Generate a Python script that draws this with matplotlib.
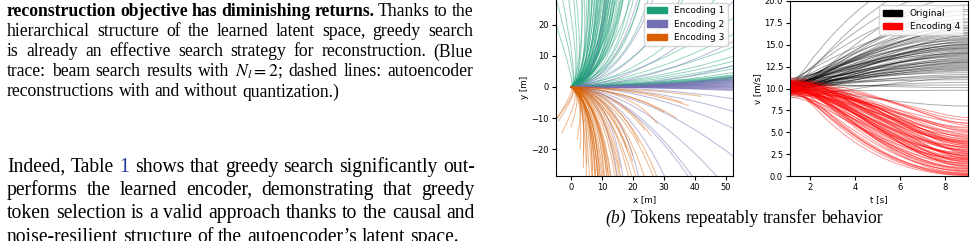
import matplotlib.pyplot as plt
from matplotlib.path import Path
from matplotlib.patches import PathPatch, Patch

plt.rcParams['mathtext.fontset'] = 'stix'
plt.rcParams['font.family'] = 'DejaVu Sans'

W, H = 975, 241
SERIF = 'Liberation Serif'

# ---------------- page text ----------------
caption_lines = [
    "reconstruction objective has diminishing returns. Thanks to the",
    "hierarchical structure of the learned latent space, greedy search",
    "is already an effective search strategy for reconstruction. (Blue",
    "trace: beam search results with $N_l=2$; dashed lines: autoencoder",
    "reconstructions with and without quantization.)",
]
body_lines = [
    "Indeed, Table 1 shows that greedy search significantly out-",
    "performs the learned encoder, demonstrating that greedy",
    "token selection is a valid approach thanks to the causal and",
    "noise-resilient structure of the autoencoder\u2019s latent space.",
]
subcaption = ["(b)", "Tokens", "repeatably", "transfer", "behavior"]

# ---------------- (b) left: x-y trajectories ----------------
# trajectory leaves the origin towards (ctrl_x, ctrl_y) and ends at (end_x, end_y)
enc1_ctrl_x = [2, 3, 3, 4, 4, 5, 5, 6, 6, 7, 7, 8, 8, 9, 9, 10, 10, 11, 11, 12, 12, 13, 13, 14, 14, 15, 15,
               16, 17, 18, 19, 20, 10, 6, 4, 12, 16, 8,
               22, 25, 26, 28, 30, 30, 32, 34, 35, 36, 38, 40, 42, 44, 46, 48, 40, 45, 50, 38,
               6, 7, 8, 9, 10, 11, 12, 13, 7, 8, 9, 10, 11, 12, 8, 9, 10, 11, 6, 7, 12, 13, 14, 10, 9]
enc1_ctrl_y = [0.5, 1, 0.5, 1.5, 0.5, 1, 2, 1, 3, 1.5, 3, 2, 4, 1, 3, 2, 5, 1.5, 4, 2.5, 5, 2, 4, 3, 6, 2, 5,
               3, 4, 3, 5, 4, 8, 6, 4, 8, 8, 6,
               4, 3, 4, 3, 3, 2, 2, 2, 1.5, 1, 1, 1, 1, 1, 1, 0.5, 1.5, 1, 1, 2,
               2, 3, 2.5, 3.5, 3, 4, 3, 4.5, 1.5, 1, 2, 1.5, 2.5, 2, 5, 6, 5.5, 7, 4, 5, 6, 3, 4, 1, 0.5]
enc1_end_x = [-8, -6, -4, -2, 0, 1, 3, 4, 5, 6, 7, 8, 9, 9, 10, 11, 12, 12, 13, 14, 15, 15, 16, 17, 18, 18, 19,
              20, 22, 24, 25, 27, 14, 8, 4, 17, 22, 11,
              40, 48, 55, 58, 60, 62, 62, 62, 62, 62, 62, 62, 62, 62, 62, 62, 62, 62, 62, 62,
              6, 8, 9, 10, 12, 13, 14, 16, 7, 9, 11, 12, 14, 15, 10, 11, 13, 14, 6, 8, 15, 17, 19, 13, 12]
enc1_end_y = [30, 33, 35, 36, 38, 36, 40, 36, 40, 38, 42, 36, 40, 38, 42, 36, 40, 38, 42, 36, 40, 38, 42, 36, 40,
              38, 42, 36, 38, 36, 40, 36, 40, 40, 40, 40, 40, 40,
              34, 30, 24, 20, 16, 13, 11, 9, 8, 6.5, 5.5, 5, 4.5, 4, 3.5, 3, 4.2, 3.8, 5.2, 4.6,
              40, 38, 42, 36, 40, 38, 42, 36, 40, 38, 42, 36, 40, 38, 42, 36, 40, 38, 42, 36, 40, 38, 42, 36, 40]

enc2_ctrl_x = [30, 32, 28, 30, 34, 30, 26, 30, 32, 30, 28, 30, 34, 30, 32, 28, 30, 31, 29, 33, 27, 30, 32, 30,
               15, 18, 20, 22, 25, 28, 30, 32, 35, 20, 12, 10, 16, 20, 25, 30, 34, 18]
enc2_ctrl_y = [0, 0, 0, 0, 0, 0, 0, 0, 0, 0, 0, 0, 0, 0, 0, 0, 0, 0, 0, 0, 0, 0, 0, 0,
               -1, -1, -1, -1, -1, -1, 0, 0, 0, -1, -1, 1, 1, 1, 1, 1, 0, 1]
enc2_end_x = [62, 62, 62, 62, 62, 62, 62, 62, 62, 62, 62, 62, 62, 62, 62, 62, 62, 62, 62, 62, 62, 62, 62, 62,
              18, 24, 35, 45, 55, 62, 65, 65, 65, 40, 16, 12, 24, 40, 55, 62, 62, 30]
enc2_end_y = [-1.6, -1.3, -1.0, -0.7, -0.4, -0.1, 0.2, 0.5, 0.8, 1.1, 1.4, 1.7, 2.0, 2.3, 2.6, 2.9, 3.2, 3.6,
              4.0, 4.5, 0.0, 1.0, 2.0, 3.0,
              -40, -40, -40, -40, -38, -30, -20, -12, -6, -30, -36, 38, 38, 36, 30, 20, 10, 38]

enc3_ctrl_x = [2, 3, 3, 4, 4, 5, 5, 6, 6, 7, 7, 8, 8, 9, 9, 10, 10, 11, 11, 12, 13, 14, 15, 16, 17, 19, 5, 7, 4, 8,
               12, 14, 15, 16, 18, 20, 20, 22, 24, 25, 14, 12,
               5, 6, 7, 8, 9, 10, 6, 7, 8, 9, 10, 11, 12, 5, 8]
enc3_ctrl_y = [-0.5, -1, -0.5, -1.5, -1, -1, -2, -1.5, -3, -2, -4, -1.5, -3, -2, -4, -2, -5, -3, -1, -3, -2, -4,
               -3, -2, -3, -2, -4, -5, -3, -6,
               -1, -1, -2, -1, -1, -1, -1, -0.5, -0.5, -0.5, -3, -2,
               -2, -3, -2.5, -3.5, -3, -4, -1, -1.5, -1, -2, -1.5, -2.5, -2, -1, -5]
enc3_end_x = [-7, -6, -4, -3, 0, 2, 4, 5, 7, 7, 8, 9, 10, 11, 12, 13, 13, 15, 16, 17, 19, 21, 23, 25, 27, 30,
              5, 9, 3, 10,
              18, 22, 24, 26, 30, 28, 34, 38, 36, 42, 20, 20,
              6, 7, 8, 10, 11, 12, 8, 9, 11, 12, 14, 15, 17, 4, 9]
enc3_end_y = [-14, -12, -11, -15, -13, -17, -22, -25, -27, -32, -34, -30, -36, -33, -28, -36, -31, -34, -26, -36,
              -31, -34, -36, -33, -30, -35, -30, -32, -20, -30,
              -20, -18, -14, -16, -8, -12, -10, -6, -5, -3, -22, -24,
              -30, -34, -32, -36, -30, -34, -28, -33, -35, -31, -36, -30, -34, -26, -36]

# ---------------- (b) right: speed profiles ----------------
T_START, T_END = 1.1, 9.0
# start speed, end speed, time the curve leaves v_start, time it settles at v_end
orig_v0 = [10.2, 9.8, 10.5, 9.5, 10.8, 10.0, 9.3, 10.6, 11.0, 9.7,
           10.3, 9.9, 10.7, 9.6, 10.1, 10.4, 9.4, 10.9, 10.0, 9.8,
           10.2, 10.6, 9.5, 11.1, 10.3, 9.9, 10.5, 9.7, 10.0, 10.8,
           9.2, 10.4, 9.6, 10.1, 10.7, 9.9, 10.2, 9.0, 10.5, 9.8,
           10.3, 10.6, 9.7, 10.0, 10.4,
           10.1, 9.7, 10.4, 10.0, 9.8, 10.6, 10.2, 9.9, 10.5, 10.3, 9.6, 10.0, 10.7, 9.9, 10.2,
           10.0, 10.4, 9.8, 10.6, 10.1, 9.9, 10.3, 10.7, 9.6, 10.2, 10.5, 9.8, 10.0, 10.4, 10.1]
orig_v1 = [24.0, 23.0, 21.5, 20.5, 19.5, 19.0, 18.4, 17.9, 17.5, 17.2,
           16.9, 16.6, 16.3, 16.0, 15.8, 15.6, 15.4, 15.2, 15.0, 14.8,
           14.6, 14.4, 14.2, 14.0, 13.8, 13.6, 13.4, 13.2, 13.0, 12.8,
           12.6, 12.4, 12.2, 12.0, 11.8, 11.6, 11.4, 11.2, 11.0, 10.7,
           10.4, 10.1, 9.8, 8.0, 14.9,
           16.2, 15.1, 14.7, 14.1, 13.5, 13.1, 12.7, 12.3, 15.5, 16.8, 17.6, 18.8, 14.3, 13.7, 12.9,
           15.3, 14.5, 13.9, 16.4, 15.7, 13.3, 12.5, 17.0, 14.0, 15.0, 16.0, 13.0, 14.6, 12.1, 11.3]
orig_ta = [1.4, 1.6, 1.5, 1.8, 1.5, 1.7, 1.6, 1.9, 1.5, 1.7,
           1.8, 1.5, 1.6, 1.9, 1.5, 1.7, 2.0, 1.6, 1.7, 1.8,
           1.5, 1.8, 1.6, 1.4, 1.9, 1.6, 1.7, 2.0, 1.6, 1.5,
           1.8, 1.7, 1.9, 1.6, 1.8, 1.5, 1.9, 2.2, 1.6, 1.7,
           1.8, 1.6, 1.9, 2.6, 1.7,
           1.6, 1.8, 1.5, 1.7, 1.9, 1.6, 1.8, 2.0, 1.5, 1.7, 1.6, 1.5, 1.8, 1.7, 1.9,
           1.6, 1.7, 1.8, 1.5, 1.6, 1.9, 1.8, 1.5, 1.7, 1.6, 1.5, 1.8, 1.7, 1.9, 2.0]
orig_tb = [4.2, 4.8, 5.2, 5.5, 5.0, 5.8, 5.3, 6.0, 4.8, 5.5,
           6.2, 5.1, 5.7, 6.5, 5.0, 5.9, 6.3, 5.2, 5.8, 6.0,
           5.1, 5.6, 6.4, 5.3, 5.9, 4.9, 6.1, 5.4, 5.7, 6.6,
           5.1, 6.0, 4.8, 6.2, 5.5, 5.9, 5.0, 6.0, 5.3, 5.7,
           6.3, 5.2, 5.8, 6.0, 5.6,
           5.6, 6.1, 5.3, 5.9, 6.2, 5.5, 6.4, 5.8, 5.4, 6.0, 5.7, 5.9, 6.3, 5.2, 6.0,
           5.5, 5.9, 6.2, 5.4, 5.8, 6.1, 6.3, 5.2, 6.0, 5.7, 5.5, 6.4, 5.9, 6.2, 6.0]

enc4_v0 = [10.0, 10.5, 9.6, 10.8, 9.9, 10.3, 9.4, 10.7, 10.1, 9.8,
           11.2, 10.4, 9.5, 10.9, 10.2, 9.7, 10.6, 9.9, 10.3, 9.2,
           10.8, 10.0, 9.6, 11.0, 10.5, 9.8, 10.2, 9.4, 10.7, 10.1,
           9.9, 10.4, 9.3, 10.6, 10.0, 9.7, 10.9, 10.2, 9.5, 10.3,
           10.6, 9.8, 10.1, 11.1, 9.6, 10.4, 10.0, 9.9, 10.7, 9.4,
           10.2, 10.5, 9.7, 10.3, 9.0, 10.8, 10.1, 9.8, 10.4, 9.6,
           10.3, 9.7, 10.6, 10.0, 9.5, 10.9, 10.2, 9.8, 10.4, 10.1,
           9.6, 10.7, 10.0, 9.9, 10.5, 10.2, 9.4, 10.8, 10.3, 9.7]
enc4_v1 = [6.7, 6.4, 6.1, 5.8, 5.5, 5.3, 5.0, 4.8, 4.6, 4.4,
           4.2, 4.0, 3.9, 3.7, 3.5, 3.4, 3.2, 3.0, 2.9, 2.7,
           2.6, 2.4, 2.3, 2.1, 2.0, 1.8, 1.7, 1.5, 1.4, 1.2,
           1.1, 0.9, 0.8, 0.6, 0.5, 0.4, 0.3, 0.2, 0.1, 0.1,
           3.8, 3.3, 2.8, 2.2, 1.9, 4.5, 5.1, 3.1, 2.5, 1.6,
           0.7, 0.3, 4.1, 3.6, 2.0, 1.3, 0.9, 5.6, 6.0, 0.2,
           4.3, 3.9, 3.5, 3.0, 2.6, 2.3, 1.9, 1.5, 1.0, 4.7,
           5.2, 3.3, 2.8, 2.1, 1.7, 1.2, 0.6, 4.0, 3.7, 2.4]
enc4_ta = [4.8, 4.5, 4.2, 4.6, 3.8, 4.4, 3.5, 4.0, 3.2, 4.3,
           3.6, 3.0, 4.1, 3.4, 3.8, 2.9, 4.0, 3.3, 3.7, 2.8,
           4.2, 3.1, 3.6, 2.7, 3.9, 3.0, 3.5, 2.6, 3.2, 2.8,
           3.4, 2.5, 3.0, 2.4, 2.8, 2.2, 2.6, 2.0, 2.3, 1.8,
           3.7, 3.1, 4.0, 3.3, 2.9, 3.9, 4.3, 3.5, 3.0, 3.7,
           2.7, 2.1, 3.4, 4.4, 2.6, 3.1, 2.9, 4.0, 4.6, 2.4,
           3.6, 3.2, 3.9, 3.0, 2.8, 3.5, 3.1, 2.9, 2.6, 4.1,
           4.3, 3.4, 3.7, 3.0, 2.7, 3.3, 2.5, 3.8, 4.0, 3.2]
enc4_tb = [7.5, 7.2, 7.0, 7.6, 6.8, 7.3, 6.5, 7.0, 6.2, 7.4,
           6.6, 6.0, 7.1, 6.4, 6.9, 5.8, 7.2, 6.3, 6.7, 5.6,
           7.3, 6.0, 6.8, 5.5, 7.0, 5.9, 6.5, 5.2, 6.2, 5.6,
           6.4, 5.0, 5.8, 4.8, 5.5, 4.4, 5.2, 4.0, 4.6, 3.6,
           6.6, 6.1, 7.1, 6.3, 5.7, 6.9, 7.4, 6.5, 6.0, 6.8,
           5.4, 4.2, 6.4, 7.5, 5.4, 6.0, 5.6, 6.9, 7.6, 4.8,
           6.7, 6.3, 6.9, 6.1, 5.9, 6.6, 6.0, 5.7, 5.3, 7.0,
           7.2, 6.4, 6.8, 6.2, 5.6, 6.2, 5.0, 6.9, 7.1, 6.3]

fig = plt.figure(figsize=(W / 100, H / 100), dpi=100)
renderer = fig.canvas.get_renderer()


def put_line(line, y, size, x0, x1, styles=None, justify=True):
    # lay out one line of justified serif text, word by word (pixel coords)
    styles = styles or {}
    words = line.split(' ')
    texts = []
    for i, w in enumerate(words):
        t = fig.text(0, 1 - y / H, w, fontsize=size, family=SERIF, va='baseline', **styles.get(i, {}))
        texts.append(t)
    widths = [t.get_window_extent(renderer).width for t in texts]
    if justify and len(words) > 1:
        gap = (x1 - x0 - sum(widths)) / (len(words) - 1)
    else:
        gap = size * 0.25 * 100 / 72
    x = x0
    for t, w in zip(texts, widths):
        t.set_x(x / W)
        x += w + gap


CAP_SIZE, BODY_SIZE = 12.7, 14.1
bold = {i: {'fontweight': 'bold'} for i in range(5)}
for k, line in enumerate(caption_lines):
    put_line(line, 16.5 + 20 * k, CAP_SIZE, 7, 473, bold if k == 0 else None,
             justify=k < len(caption_lines) - 1)
for k, line in enumerate(body_lines):
    put_line(line, 171.7 + 23.3 * k, BODY_SIZE, 7, 475, {2: {'color': '#1f3a9a'}} if k == 0 else None,
             justify=k < len(body_lines) - 1)

# sub-caption, centred under panel (b)
sub_texts = []
for i, w in enumerate(subcaption):
    sub_texts.append(fig.text(0, 1 - 222.7 / H, w, fontsize=CAP_SIZE, family=SERIF, va='baseline',
                              style='italic' if i == 0 else 'normal'))
sw = [t.get_window_extent(renderer).width for t in sub_texts]
sp = CAP_SIZE * 0.25 * 100 / 72
x = 744 - (sum(sw) + sp * (len(sw) - 1)) / 2
for t, w in zip(sub_texts, sw):
    t.set_x(x / W)
    x += w + sp


def draw_xy(ax, cx, cy, ex, ey, color, alpha):
    for a, b, x, y in zip(cx, cy, ex, ey):
        p = Path([(0, 0), (a, b), (x, y)], [Path.MOVETO, Path.CURVE3, Path.CURVE3])
        ax.add_patch(PathPatch(p, fill=False, edgecolor=color, alpha=alpha, lw=0.7))


def draw_v(ax, v0, v1, ta, tb, color, alpha):
    for a, b, c, d in zip(v0, v1, ta, tb):
        p = Path([(T_START, a), (c, a), (d, b), (T_END, b)],
                 [Path.MOVETO, Path.CURVE4, Path.CURVE4, Path.CURVE4])
        ax.add_patch(PathPatch(p, fill=False, edgecolor=color, alpha=alpha, lw=0.7))


def style_axes(ax):
    ax.tick_params(labelsize=6, length=3, width=0.8, pad=2)
    for s in ax.spines.values():
        s.set_linewidth(0.8)


green, purple, orange = '#1b9e77', '#7570b3', '#d95f02'

ax1 = fig.add_axes([556 / W, 1 - 176 / H, 177 / W, 178 / H])
draw_xy(ax1, enc1_ctrl_x, enc1_ctrl_y, enc1_end_x, enc1_end_y, green, 0.45)
draw_xy(ax1, enc2_ctrl_x, enc2_ctrl_y, enc2_end_x, enc2_end_y, purple, 0.5)
draw_xy(ax1, enc3_ctrl_x, enc3_ctrl_y, enc3_end_x, enc3_end_y, orange, 0.45)
ax1.set_xlim(-4.8, 52.3)
ax1.set_ylim(-28.7, 28.7)
ax1.set_xticks([0, 10, 20, 30, 40, 50])
ax1.set_yticks([-20, -10, 0, 10, 20])
ax1.set_xlabel('x [m]', fontsize=6.3, labelpad=2)
ax1.set_ylabel('y [m]', fontsize=6.3, labelpad=2)
style_axes(ax1)
ax1.legend(handles=[Patch(color=green, label='Encoding 1'), Patch(color=purple, label='Encoding 2'),
                    Patch(color=orange, label='Encoding 3')],
           loc='upper right', fontsize=6.5, handlelength=2.2)

ax2 = fig.add_axes([790 / W, 1 - 176.3 / H, 178 / W, 175.6 / H])
draw_v(ax2, orig_v0, orig_v1, orig_ta, orig_tb, 'black', 0.32)
draw_v(ax2, enc4_v0, enc4_v1, enc4_ta, enc4_tb, 'red', 0.4)
ax2.set_xlim(T_START, T_END)
ax2.set_ylim(0, 20)
ax2.set_xticks([2, 4, 6, 8])
ax2.set_yticks([0, 2.5, 5, 7.5, 10, 12.5, 15, 17.5, 20])
ax2.set_xlabel('t [s]', fontsize=6.3, labelpad=2)
ax2.set_ylabel('v [m/s]', fontsize=6.3, labelpad=2)
style_axes(ax2)
ax2.legend(handles=[Patch(color='black', label='Original'), Patch(color='red', label='Encoding 4')],
           loc='upper right', fontsize=6.5, handlelength=2.2)

fig.savefig('out.png', dpi=100)
